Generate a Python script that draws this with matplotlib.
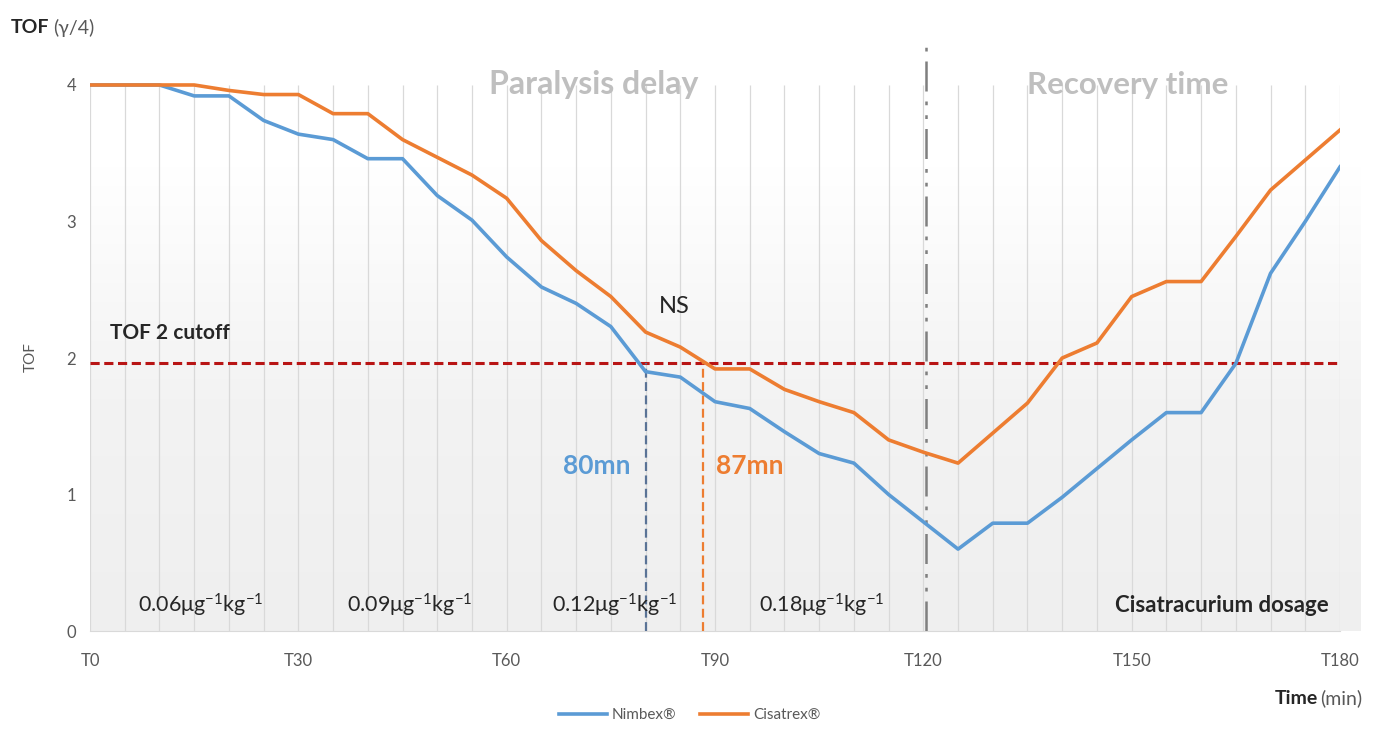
import numpy as np
import matplotlib
matplotlib.use("Agg")
import matplotlib.pyplot as plt
from matplotlib.colors import LinearSegmentedColormap

# ---------------- data ----------------
time_min = list(range(0, 185, 5))
nimbex = [4.0, 4.0, 4.0, 3.92, 3.92, 3.74, 3.64, 3.60, 3.46, 3.46,
          3.19, 3.01, 2.74, 2.52, 2.40, 2.23, 1.90, 1.86, 1.68, 1.63,
          1.46, 1.30, 1.23, 1.00, 0.80, 0.60, 0.79, 0.79, 0.98, 1.19,
          1.40, 1.60, 1.60, 1.96, 2.62, 3.00, 3.40]
cisatrex = [4.0, 4.0, 4.0, 4.0, 3.96, 3.93, 3.93, 3.79, 3.79, 3.60,
            3.47, 3.34, 3.17, 2.86, 2.64, 2.45, 2.19, 2.08, 1.92, 1.92,
            1.77, 1.68, 1.60, 1.40, 1.31, 1.23, 1.45, 1.67, 2.00, 2.11,
            2.45, 2.56, 2.56, 2.89, 3.23, 3.45, 3.67]
series_names = ["Nimbex®", "Cisatrex®"]
tof_cutoff = 1.96
cross_nimbex = 80
cross_cisatrex = 88.3
phase_split = 120.4
xtick_values = [0, 30, 60, 90, 120, 150, 180]
xtick_labels = ["T0", "T30", "T60", "T90", "T120", "T150", "T180"]
ytick_values = [0, 1, 2, 3, 4]
dose_labels = ["0.06μg$^{-1}$kg$^{-1}$", "0.09μg$^{-1}$kg$^{-1}$",
               "0.12μg$^{-1}$kg$^{-1}$", "0.18μg$^{-1}$kg$^{-1}$"]
dose_x = [16, 46, 75.5, 105.3]

# ---------------- style ----------------
plt.rcParams['font.family'] = ['Lato', 'DejaVu Sans']
plt.rcParams['mathtext.fontset'] = 'custom'
plt.rcParams['mathtext.rm'] = 'Lato'
plt.rcParams['mathtext.it'] = 'Lato:italic'
BLUE = "#5b9bd5"
ORANGE = "#ed7d31"
RED = "#b81414"
GRAY_TXT = "#595959"

fig = plt.figure(figsize=(13.79, 7.29), dpi=100)
ax = fig.add_axes([0.0653, 0.1344, 0.9064, 0.8052])
ax.set_xlim(0, 180)
ax.set_ylim(0, 4.3)

# background gradient (white at top -> light gray at bottom)
cmap = LinearSegmentedColormap.from_list("bg", ["#efefef", "#f3f3f3", "#ffffff"])
grad = np.linspace(0, 1, 256).reshape(-1, 1)
ax.imshow(grad, extent=(0, 183, 0, 3.4), origin="lower", aspect="auto",
          cmap=cmap, zorder=0, clip_on=False)

# vertical grid lines every 5 minutes up to 4
ax.vlines(time_min, 0, 4, colors="#d9d9d9", linewidth=0.9, zorder=1)

# series
ax.plot(time_min, nimbex, color=BLUE, lw=2.6, zorder=4, label=series_names[0],
        solid_joinstyle="round")
ax.plot(time_min, cisatrex, color=ORANGE, lw=2.6, zorder=4, label=series_names[1],
        solid_joinstyle="round")

# cutoff line
ax.plot([0, 180], [tof_cutoff, tof_cutoff], color=RED, lw=2.2,
        linestyle=(0, (3, 1.5)), zorder=3)
# crossing verticals
ax.plot([cross_nimbex, cross_nimbex], [0, tof_cutoff], color="#5a7396", lw=1.6,
        linestyle=(0, (4, 2)), zorder=3)
ax.plot([cross_cisatrex, cross_cisatrex], [0, tof_cutoff], color=ORANGE, lw=1.6,
        linestyle=(0, (4, 2)), zorder=3)
# phase separator
ax.plot([phase_split, phase_split], [0, 4.3], color="#7f7f7f", lw=1.8,
        linestyle=(0, (12, 4, 1.5, 4, 1.5, 4)), zorder=3)

# axes styling
for s in ["top", "right", "left"]:
    ax.spines[s].set_visible(False)
ax.spines["bottom"].set_color("#d9d9d9")
ax.set_xticks(xtick_values)
ax.set_xticklabels(xtick_labels)
ax.set_yticks(ytick_values)
ax.tick_params(axis="both", length=0, colors=GRAY_TXT, labelsize=12)
ax.tick_params(axis="x", pad=16)
ax.tick_params(axis="y", pad=10)

# text annotations
ax.text(72.5, 4.0, "Paralysis delay", color="#bfbfbf", fontsize=23,
        fontweight="bold", ha="center", va="center")
ax.text(149.5, 4.0, "Recovery time", color="#bfbfbf", fontsize=22.5,
        fontweight="bold", ha="center", va="center")
ax.text(84.1, 2.38, "NS", color="#262626", fontsize=17, ha="center", va="center")
ax.text(11.5, 2.18, "TOF 2 cutoff", color="#262626", fontsize=15,
        fontweight="bold", ha="center", va="center")
ax.text(73, 1.21, "80mn", color=BLUE, fontsize=19, fontweight="bold",
        ha="center", va="center")
ax.text(95, 1.21, "87mn", color=ORANGE, fontsize=19, fontweight="bold",
        ha="center", va="center")
for lbl, xv in zip(dose_labels, dose_x):
    ax.text(xv, 0.19, lbl, color="#262626", fontsize=15.5, ha="center", va="center")
ax.text(163, 0.19, "Cisatracurium dosage", color="#262626", fontsize=16,
        fontweight="bold", ha="center", va="center")

# axis titles
fig.text(0.0075, 0.962, "TOF", fontsize=14, fontweight="bold", color="#262626",
         ha="left", va="center")
fig.text(0.0385, 0.962, "(γ/4)", fontsize=14, color=GRAY_TXT, ha="left", va="center")
fig.text(0.022, 0.51, "TOF", fontsize=11, color=GRAY_TXT, rotation=90,
         ha="center", va="center")
fig.text(0.9555, 0.042, "Time", fontsize=14, fontweight="bold", color="#262626",
         ha="right", va="center")
fig.text(0.9575, 0.042, "(min)", fontsize=14, color=GRAY_TXT, ha="left", va="center")

# legend
leg = fig.legend(loc="center", bbox_to_anchor=(0.5, 0.019), ncol=2, frameon=False,
                 fontsize=11, handlelength=3.2, columnspacing=1.5, handletextpad=0.3)
for t in leg.get_texts():
    t.set_color(GRAY_TXT)

fig.savefig("out.png", dpi=100)
